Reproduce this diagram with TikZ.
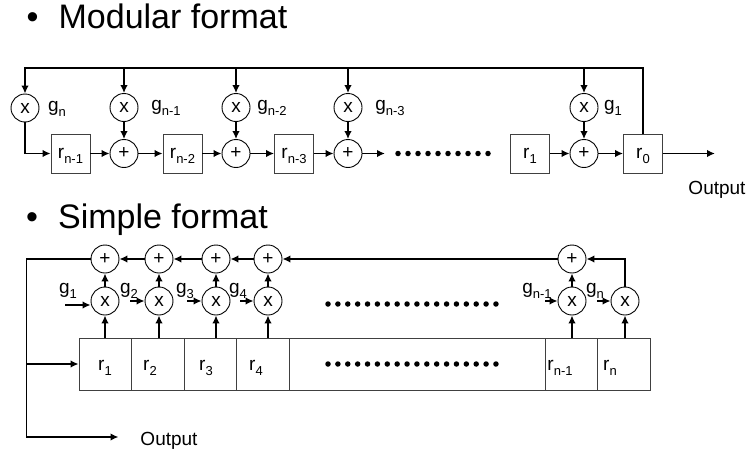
\documentclass[tikz,border=0pt]{standalone}
\usepackage{fontspec}
\setmainfont{Liberation Sans}
\usetikzlibrary{positioning,arrows.meta}
\newcommand{\gsub}[2]{#1\raisebox{-5pt}[0pt][0pt]{\fontsize{13}{13}\selectfont #2}}
\tikzset{
  mult/.style={circle,draw=black,line width=0.9pt,minimum size=28pt,inner sep=0pt,font=\fontsize{19}{19}\selectfont},
  reg/.style={rectangle,draw=black!75,line width=0.9pt,minimum size=39pt,inner sep=0pt,font=\fontsize{19}{19}\selectfont},
  cell/.style={rectangle,draw=black!75,line width=0.9pt,minimum height=52pt,inner sep=0pt},
  txt/.style={inner sep=0pt,font=\fontsize{19}{19}\selectfont},
  heading/.style={inner sep=0pt,text height=24pt,text depth=0pt,font=\fontsize{34}{34}\selectfont},
  wire/.style={draw,-{Latex[length=8pt,width=7.5pt]},line width=1.6pt},
  wires/.style={every edge/.style=wire},
  dotrow/.style={line width=5.5pt,line cap=round,dash pattern=on 0pt off 10pt},
  dotrowb/.style={line width=5.5pt,line cap=round,dash pattern=on 0pt off 9.88pt}
}
\begin{document}
\begin{tikzpicture}[x=1pt,y=1pt,on grid]
    \useasboundingbox (0,0) rectangle (747,-455);
    % Modular format
        \node[heading] (title1) at (157,-16) {\textbullet\hspace{20pt}Modular format};
        \node[mult] (m0) at (25,-108) {x};
		\node[reg,
			below right=45.5pt and 45.5pt of m0
			] (r1) {\gsub{r}{n-1}};
		\node[mult,
			right=53.5pt of r1
			] (a1) {+};
		\node[mult,
			above=46pt of a1
			] (m1) {x};
		\node[reg,
			right=58.5pt of a1
			] (r2) {\gsub{r}{n-2}};
		\node[mult,
			right=53.5pt of r2
			] (a2) {+};
		\node[mult,
			above=46pt of a2
			] (m2) {x};
		\node[reg,
			right=58pt of a2
			] (r3) {\gsub{r}{n-3}};
		\node[mult,
			right=54pt of r3
			] (a3) {+};
		\node[mult,
			above=46pt of a3
			] (m3) {x};
		\node[reg,
			right=182pt of a3
			] (r4) {\gsub{r}{1}};
		\node[mult,
			right=54pt of r4
			] (a4) {+};
		\node[mult,
			above=46pt of a4
			] (m4) {x};
		\node[reg,
			right=59pt of a4
			] (r0) {\gsub{r}{0}};
		\node[txt] (g0) [right=32pt of m0] {\gsub{g}{n}};
		\node[txt] (g1) [right=42pt of m1] {\gsub{g}{n-1}};
		\node[txt] (g2) [right=36pt of m2] {\gsub{g}{n-2}};
		\node[txt] (g3) [right=42pt of m3] {\gsub{g}{n-3}};
		\node[txt] (g4) [right=29pt of m4] {\gsub{g}{1}};
		\node[txt] (out1) [below right=36pt and 74pt of r0] {Output};
		\coordinate[above=40pt of m0] (top);
		\coordinate[right=37pt of a3] (dotin);
		\coordinate[right=50pt of a3] (dot1a);
		\coordinate[right=140.5pt of a3] (dot1b);
		\coordinate[right=72pt of r0] (outend);

       \path[wires]
			(r1) edge (a1)
			(a1) edge (r2)
			(r2) edge (a2)
			(a2) edge (r3)
			(r3) edge (a3)
			(a3) edge (dotin)
			(r4) edge (a4)
			(a4) edge (r0)
			(r0) edge (outend)
			(m1) edge (a1)
			(m2) edge (a2)
			(m3) edge (a3)
			(m4) edge (a4)
			(m1 |- top) edge (m1)
			(m2 |- top) edge (m2)
			(m3 |- top) edge (m3)
			(m4 |- top) edge (m4)
			;
       \draw[wire] (r0.north) |- (top) -- (m0);
       \draw[wire] (m0) |- (r1);
       \draw[dotrow] (dot1a) -- (dot1b);

    % Simple format
        \node[heading] (title2) [below=200pt of title1, xshift=-10pt] {\textbullet\hspace{20pt}Simple format};
        \node[cell,minimum width=52pt] (c1) at (105,-364) {};
		\node[cell,minimum width=53pt,right=52.5pt of c1] (c2) {};
		\node[cell,minimum width=52pt,right=52.5pt of c2] (c3) {};
		\node[cell,minimum width=53pt,right=52.5pt of c3] (c4) {};
		\node[cell,minimum width=256pt,right=154.5pt of c4] (c5) {};
		\node[cell,minimum width=52pt,right=154pt of c5] (c6) {};
		\node[cell,minimum width=53pt,right=52.5pt of c6] (c7) {};
		\node[txt] (l1) [below=1.5pt of c1] {\gsub{r}{1}};
		\node[txt] (l2) [below=1.5pt of c2, xshift=-7.5pt] {\gsub{r}{2}};
		\node[txt] (l3) [below=1.5pt of c3, xshift=-4pt] {\gsub{r}{3}};
		\node[txt] (l4) [below=1.5pt of c4, xshift=-6.5pt] {\gsub{r}{4}};
		\node[txt] (l6) [below=1.5pt of c6, xshift=-11pt] {\gsub{r}{n-1}};
		\node[txt] (l7) [below=1.5pt of c7, xshift=-13.5pt] {\gsub{r}{n}};
		\node[mult] (x1) [above=63pt of c1] {x};
		\node[mult] (x2) [right=54pt of x1] {x};
		\node[mult] (x3) [right=57pt of x2] {x};
		\node[mult] (x4) [right=52pt of x3] {x};
		\node[mult] (x5) [right=304pt of x4] {x};
		\node[mult] (x6) [right=53pt of x5] {x};
		\node[mult] (p1) [above=42pt of x1] {+};
		\node[mult] (p2) [above=42pt of x2] {+};
		\node[mult] (p3) [above=42pt of x3] {+};
		\node[mult] (p4) [above=42pt of x4] {+};
		\node[mult] (p5) [above=42pt of x5] {+};
		\node[txt] (h1) [above left=11pt and 37pt of x1] {\gsub{g}{1}};
		\node[txt] (h2) [above left=11pt and 30pt of x2] {\gsub{g}{2}};
		\node[txt] (h3) [above left=11pt and 31pt of x3] {\gsub{g}{3}};
		\node[txt] (h4) [above left=11pt and 30pt of x4] {\gsub{g}{4}};
		\node[txt] (h5) [above left=11pt and 35pt of x5] {\gsub{g}{n-1}};
		\node[txt] (h6) [above left=11pt and 30pt of x6] {\gsub{g}{n}};
		\node[txt] (out2) [below right=77pt and 64pt of c1] {Output};
		\coordinate[left=78.5pt of p1] (corner);
		\coordinate[below=178pt of corner] (cornerb);
		\coordinate[right=92pt of cornerb] (outarrow);
		\coordinate[below left=4pt and 40pt of x1] (gin1);
		\coordinate[left=29pt of x2] (gin2);
		\coordinate[left=29pt of x3] (gin3);
		\coordinate[left=28pt of x4] (gin4);
		\coordinate[left=27pt of x5] (gin5);
		\coordinate[left=28pt of x6] (gin6);
		\coordinate[above=-3pt of x1, xshift=223pt] (dot2a);
		\coordinate[above=-3pt of x1, xshift=391.5pt] (dot2b);
		\coordinate[left=0pt of c5, xshift=-89pt] (dot3a);
		\coordinate[left=0pt of c5, xshift=79.5pt] (dot3b);

       \path[wires]
			(p5) edge (p4)
			(p4) edge (p3)
			(p3) edge (p2)
			(p2) edge (p1)
			(x1) edge (p1)
			(x2) edge (p2)
			(x3) edge (p3)
			(x4) edge (p4)
			(x5) edge (p5)
			(x1 |- c1.north) edge (x1)
			(x2 |- c2.north) edge (x2)
			(x3 |- c3.north) edge (x3)
			(x4 |- c4.north) edge (x4)
			(x5 |- c6.north) edge (x5)
			(x6 |- c7.north) edge (x6)
			(gin1) edge (gin1 -| x1.west)
			(gin2) edge (x2)
			(gin3) edge (x3)
			(gin4) edge (x4)
			(gin5) edge (x5)
			(gin6) edge (x6)
			(corner |- c1) edge (c1)
			;
       \draw[wire] (x6) |- (p5);
       \draw[wire] (p1) -- (corner) -- (cornerb) -- (outarrow);
       \draw[dotrowb] (dot2a) -- (dot2b);
       \draw[dotrowb] (dot3a) -- (dot3b);
    \end{tikzpicture}
\end{document}
